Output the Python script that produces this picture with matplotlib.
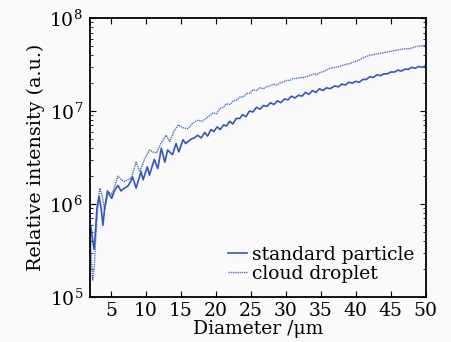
import numpy as np
import matplotlib
matplotlib.use("Agg")
import matplotlib.pyplot as plt
from matplotlib.ticker import LogLocator, NullFormatter

# values (diameter in um, log10 of relative intensity)
std_d = [2.0, 2.2, 2.4, 2.6, 2.8, 3.0, 3.3, 3.6, 3.85, 4.1, 4.5, 4.8, 5.1, 5.5,
         6.0, 6.45, 6.9, 7.4, 7.8, 8.1, 8.6, 9.3, 9.6, 10.2, 10.5, 11.2, 11.7,
         12.2, 12.7, 13.1, 13.8, 14.3, 14.7, 15.3, 15.7, 16.0, 16.5, 16.9, 17.4,
         17.9, 18.4, 18.8, 19.3, 19.7, 20.2, 20.6, 21.1, 21.5, 22.0, 22.4, 22.9,
         23.4, 23.8, 24.3, 24.8, 25.3, 25.8, 26.3, 26.8, 27.3, 27.8, 28.3, 28.8,
         29.3, 29.8, 30.3, 30.8, 31.3, 31.8, 32.3, 32.8, 33.3, 33.8, 34.3, 34.8,
         35.3, 35.8, 36.3, 37.0, 37.5, 38.0, 38.5, 39.0, 39.5, 40.0, 40.5, 41.0,
         41.5, 42.0, 42.5, 43.0, 43.5, 44.0, 44.5, 45.0, 45.5, 46.0, 46.5, 47.0,
         47.5, 48.0, 48.5, 49.0, 49.5, 50.0]
std_log = [5.80, 5.72, 5.60, 5.51, 5.72, 5.95, 6.08, 5.95, 5.77, 5.95, 6.14, 6.10,
           6.06, 6.14, 6.20, 6.14, 6.17, 6.19, 6.24, 6.29, 6.17, 6.35, 6.26, 6.40,
           6.31, 6.48, 6.38, 6.60, 6.45, 6.58, 6.53, 6.65, 6.56, 6.69, 6.65, 6.67,
           6.70, 6.71, 6.74, 6.71, 6.77, 6.73, 6.80, 6.78, 6.83, 6.80, 6.85, 6.84,
           6.89, 6.86, 6.92, 6.92, 6.96, 6.94, 7.00, 6.99, 7.04, 7.02, 7.06, 7.05,
           7.09, 7.07, 7.11, 7.09, 7.13, 7.12, 7.16, 7.14, 7.17, 7.16, 7.20, 7.18,
           7.22, 7.20, 7.24, 7.22, 7.25, 7.24, 7.27, 7.26, 7.29, 7.28, 7.31, 7.30,
           7.32, 7.31, 7.34, 7.34, 7.37, 7.36, 7.39, 7.38, 7.40, 7.40, 7.42, 7.42,
           7.44, 7.43, 7.45, 7.45, 7.47, 7.46, 7.48, 7.47, 7.49]

cloud_d = [2.0, 2.2, 2.38, 2.6, 2.8, 3.1, 3.4, 3.7, 4.1, 4.4, 4.7, 5.1, 5.5, 6.0,
           6.5, 6.95, 7.4, 7.9, 8.6, 9.1, 9.8, 10.5, 11.0, 11.5, 12.2, 12.9, 13.4,
           14.0, 14.6, 15.3, 16.0, 16.7, 17.4, 18.0, 18.6, 19.1, 19.6, 20.1, 20.6,
           21.1, 21.5, 22.0, 22.5, 23.0, 23.4, 23.9, 24.4, 24.9, 25.3, 25.8, 26.3,
           26.8, 27.2, 27.7, 28.2, 28.7, 29.1, 29.6, 30.1, 30.6, 31.0, 31.5, 32.0,
           32.5, 32.9, 33.4, 33.9, 34.4, 34.8, 35.5, 36.3, 37.0, 37.7, 38.4, 39.1,
           39.8, 40.5, 41.2, 42.0, 42.7, 43.4, 44.1, 44.8, 45.5, 46.2, 47.0, 47.7,
           48.4, 49.2, 50.0]
cloud_log = [5.76, 5.40, 5.18, 5.30, 5.60, 5.95, 6.17, 6.10, 5.94, 6.05, 6.13, 6.10,
             6.18, 6.30, 6.26, 6.24, 6.26, 6.28, 6.45, 6.35, 6.48, 6.58, 6.56, 6.55,
             6.66, 6.74, 6.67, 6.78, 6.85, 6.82, 6.81, 6.87, 6.90, 6.89, 6.92, 6.95,
             6.98, 6.97, 7.03, 7.04, 7.08, 7.07, 7.11, 7.12, 7.15, 7.15, 7.19, 7.19,
             7.23, 7.22, 7.25, 7.24, 7.26, 7.27, 7.29, 7.28, 7.30, 7.31, 7.33, 7.33,
             7.35, 7.35, 7.36, 7.36, 7.37, 7.38, 7.40, 7.39, 7.41, 7.43, 7.46, 7.47,
             7.48, 7.50, 7.51, 7.53, 7.55, 7.58, 7.60, 7.61, 7.62, 7.63, 7.64, 7.65,
             7.66, 7.67, 7.67, 7.69, 7.70, 7.71]

x_ticks = [5, 10, 15, 20, 25, 30, 35, 40, 45, 50]

plt.rcParams["font.family"] = "DejaVu Serif"
plt.rcParams["mathtext.fontset"] = "dejavuserif"
plt.rcParams["font.size"] = 13

blue = "#3556b4"
fig = plt.figure(figsize=(4.52, 3.42), dpi=100, facecolor="#fafafa")
ax = fig.add_axes([0.199, 0.132, 0.743, 0.815])
ax.set_facecolor("#fafafa")

ax.plot(std_d, 10 ** np.array(std_log), color=blue, lw=1.2,
        label="standard particle")
ax.plot(cloud_d, 10 ** np.array(cloud_log), color=blue, lw=1.0,
        linestyle=(0, (1, 0.6)), alpha=0.85, label="cloud droplet")

ax.set_yscale("log")
ax.set_xlim(2, 50)
ax.set_ylim(1e5, 1e8)
ax.set_xticks(x_ticks)
ax.yaxis.set_major_locator(LogLocator(base=10, numticks=10))
ax.yaxis.set_minor_locator(LogLocator(base=10, subs=np.arange(2, 10), numticks=10))
ax.yaxis.set_minor_formatter(NullFormatter())
ax.tick_params(which="both", direction="in", top=True, right=True, labelsize=13.5)
ax.tick_params(which="major", length=4, width=0.8)
ax.tick_params(which="minor", length=2, width=0.6)
ax.tick_params(axis="y", pad=5)
for s in ax.spines.values():
    s.set_linewidth(1.3)

ax.set_xlabel("Diameter /\u03bcm", fontsize=13.5, labelpad=0)
ax.set_ylabel("Relative intensity (a.u.)", fontsize=13.8, labelpad=3)
ax.legend(loc="lower right", frameon=False, handlelength=1.0, handletextpad=0.3,
          labelspacing=0.05, fontsize=13.5, borderaxespad=0.2,
          bbox_to_anchor=(1.0, 0.01))

fig.savefig("out.png", dpi=100, facecolor=fig.get_facecolor())
